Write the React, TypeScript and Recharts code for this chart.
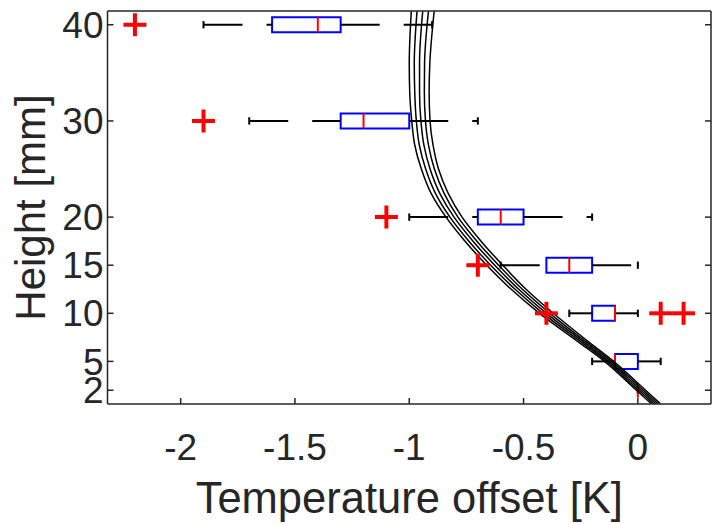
import React from 'react';
import { ComposedChart, XAxis, YAxis, Line, Scatter, ReferenceArea, ReferenceLine } from 'recharts';

// Box plot statistics per measurement height
const heights = [2, 5, 10, 15, 20, 30, 40];
const whiskerLow = [0, -0.2, -0.3, -0.6, -1.0, -1.7, -1.9];
const quartile1 = [0, -0.1, -0.2, -0.4, -0.7, -1.3, -1.6];
const medians = [0, -0.1, -0.1, -0.3, -0.6, -1.2, -1.4];
const quartile3 = [0, 0, -0.1, -0.2, -0.5, -1.0, -1.3];
const whiskerHigh = [0, 0.1, 0, 0, -0.2, -0.7, -0.9];

// Outliers
const outlierHeights = [40, 30, 20, 15, 10, 10, 10];
const outlierValues = [-2.2, -1.9, -1.1, -0.7, -0.4, 0.1, 0.2];

// Model profiles (temperature offset vs height)
const profileHeights = [0.6, 2, 5, 7, 10, 12.5, 15, 17.5, 20, 22.5, 25, 27.5, 30, 33, 36, 41.4];
const profile1 = [0.059, -0.006, -0.146, -0.259, -0.43, -0.554, -0.661, -0.756, -0.839, -0.905, -0.947, -0.976, -0.989, -0.998, -1.0, -0.991];
const profile2 = [0.069, 0.004, -0.136, -0.247, -0.415, -0.537, -0.644, -0.739, -0.822, -0.886, -0.928, -0.956, -0.969, -0.976, -0.978, -0.966];
const profile3 = [0.079, 0.014, -0.126, -0.236, -0.4, -0.521, -0.626, -0.721, -0.804, -0.867, -0.909, -0.936, -0.949, -0.955, -0.955, -0.941];
const profile4 = [0.089, 0.024, -0.116, -0.225, -0.385, -0.505, -0.609, -0.704, -0.787, -0.848, -0.89, -0.916, -0.929, -0.934, -0.933, -0.916];
const profile5 = [0.099, 0.034, -0.106, -0.214, -0.37, -0.489, -0.591, -0.686, -0.769, -0.83, -0.872, -0.896, -0.909, -0.913, -0.91, -0.891];
const profiles = [profile1, profile2, profile3, profile4, profile5];

const xTicks = [-2, -1.5, -1, -0.5, 0];
const yTicks = [2, 5, 10, 15, 20, 30, 40];
const xDomain: [number, number] = [-2.32, 0.32];
const yDomain: [number, number] = [0.57, 41.43];

const BOX_HALF = 0.78;
const CAP_HALF = 0.38;
const AXIS_COLOR = '#262626';
const FONT = 'Liberation Sans, Arial, Helvetica, sans-serif';

const outlierData = outlierValues.map((t, i) => ({ t, h: outlierHeights[i] }));
const profileData = profiles.map((p) => p.map((t, i) => ({ t, h: profileHeights[i] })));

const PlusShape = (props: any) => {
  const { cx, cy } = props;
  if (cx == null || cy == null) return <g />;
  const s = 11.5;
  return (
    <g>
      <line x1={cx - s} y1={cy} x2={cx + s} y2={cy} stroke="#FF0000" strokeWidth={4} />
      <line x1={cx} y1={cy - s} x2={cx} y2={cy + s} stroke="#FF0000" strokeWidth={4} />
    </g>
  );
};

export default function App() {
  const tickStyle = { fontSize: 37, fill: AXIS_COLOR, fontFamily: FONT };
  return (
    <div style={{ position: 'absolute', left: 0, top: 0, width: 713, height: 524, background: '#fff' }}>
      <ComposedChart
        width={713}
        height={524}
        margin={{ top: 10, right: 1, bottom: 0, left: 0.5 }}
        style={{ fontFamily: FONT }}
      >
        <XAxis
          xAxisId={0}
          dataKey="t"
          type="number"
          domain={xDomain}
          ticks={xTicks}
          allowDataOverflow
          interval={0}
          height={120}
          tickSize={-6}
          tickMargin={36}
          axisLine={{ stroke: AXIS_COLOR, strokeWidth: 1.5 }}
          tickLine={{ stroke: AXIS_COLOR, strokeWidth: 1.5 }}
          tick={tickStyle}
          label={{ value: 'Temperature offset [K]', position: 'insideBottom', offset: 11, fontSize: 43.5, fill: AXIS_COLOR, fontFamily: FONT }}
        />
        <XAxis
          xAxisId="top"
          orientation="top"
          type="number"
          domain={xDomain}
          ticks={xTicks}
          allowDataOverflow
          interval={0}
          height={1}
          tickSize={-6}
          tickFormatter={() => ''}
          axisLine={{ stroke: AXIS_COLOR, strokeWidth: 1.5 }}
          tickLine={{ stroke: AXIS_COLOR, strokeWidth: 1.5 }}
        />
        <YAxis
          yAxisId={0}
          dataKey="h"
          type="number"
          domain={yDomain}
          ticks={yTicks}
          allowDataOverflow
          interval={0}
          width={107}
          tickSize={-6}
          tickMargin={10}
          axisLine={{ stroke: AXIS_COLOR, strokeWidth: 1.5 }}
          tickLine={{ stroke: AXIS_COLOR, strokeWidth: 1.5 }}
          tick={tickStyle}
          label={{ value: 'Height [mm]', angle: -90, position: 'insideLeft', offset: 30, fontSize: 42, fill: AXIS_COLOR, fontFamily: FONT, style: { textAnchor: 'middle' } }}
        />
        <YAxis
          yAxisId="right"
          orientation="right"
          type="number"
          domain={yDomain}
          ticks={yTicks}
          allowDataOverflow
          interval={0}
          width={1}
          tickSize={-6}
          tickFormatter={() => ''}
          axisLine={{ stroke: AXIS_COLOR, strokeWidth: 1.5 }}
          tickLine={{ stroke: AXIS_COLOR, strokeWidth: 1.5 }}
        />

        {heights.map((h, i) => (
          <ReferenceLine
            key={`wl-${h}`}
            segment={[{ x: whiskerLow[i], y: h }, { x: quartile1[i], y: h }]}
            stroke="#000"
            strokeWidth={2}
            strokeDasharray="39 24"
          />
        ))}
        {heights.map((h, i) => (
          <ReferenceLine
            key={`wh-${h}`}
            segment={[{ x: quartile3[i], y: h }, { x: whiskerHigh[i], y: h }]}
            stroke="#000"
            strokeWidth={2}
            strokeDasharray="39 24"
          />
        ))}
        {heights.map((h, i) => (
          <ReferenceLine
            key={`cl-${h}`}
            segment={[{ x: whiskerLow[i], y: h - CAP_HALF }, { x: whiskerLow[i], y: h + CAP_HALF }]}
            stroke="#000"
            strokeWidth={2}
          />
        ))}
        {heights.map((h, i) => (
          <ReferenceLine
            key={`ch-${h}`}
            segment={[{ x: whiskerHigh[i], y: h - CAP_HALF }, { x: whiskerHigh[i], y: h + CAP_HALF }]}
            stroke="#000"
            strokeWidth={2}
          />
        ))}
        {heights.map((h, i) => (
          <ReferenceArea
            key={`box-${h}`}
            x1={quartile1[i]}
            x2={quartile3[i]}
            y1={h - BOX_HALF}
            y2={h + BOX_HALF}
            fill="none"
            fillOpacity={0}
            stroke="#0000FF"
            strokeWidth={2}
            strokeOpacity={1}
          />
        ))}
        {heights.map((h, i) => (
          <ReferenceLine
            key={`med-${h}`}
            segment={[{ x: medians[i], y: h - BOX_HALF }, { x: medians[i], y: h + BOX_HALF }]}
            stroke="#FF0000"
            strokeWidth={2}
          />
        ))}

        <Scatter data={outlierData} dataKey="h" shape={PlusShape} isAnimationActive={false} />

        {profileData.map((d, i) => (
          <Line
            key={`p-${i}`}
            data={d}
            dataKey="h"
            type="monotoneY"
            stroke="#000"
            strokeWidth={1.5}
            dot={false}
            activeDot={false}
            isAnimationActive={false}
          />
        ))}
      </ComposedChart>
    </div>
  );
}
